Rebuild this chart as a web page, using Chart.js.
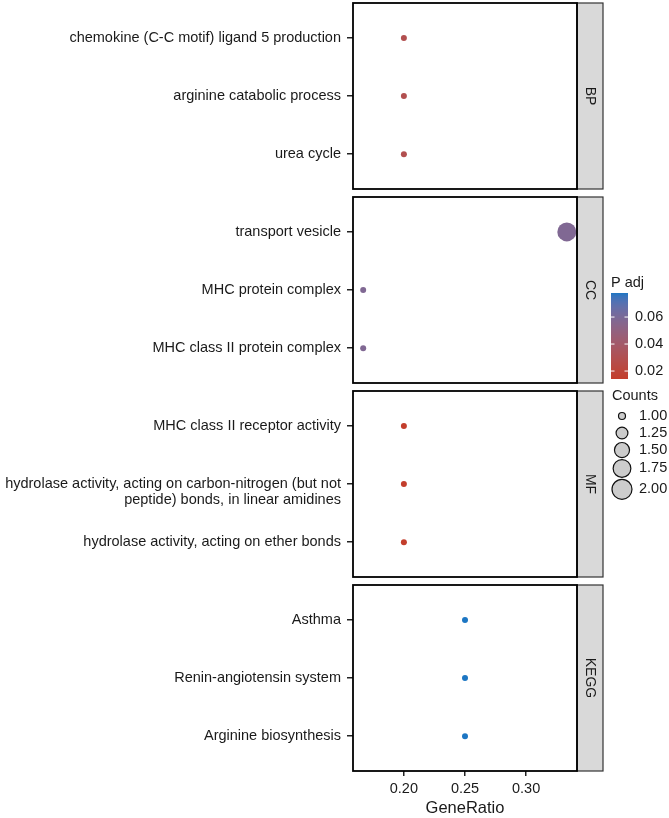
<!DOCTYPE html>
<html lang="en">
<head>
<meta charset="UTF-8" />
<title>Enrichment dot plot</title>
<style>
  body { margin: 0; background: #fff; overflow: hidden; }
  #wrap { position: relative; width: 669px; height: 818px; }
  #wrap canvas { position: absolute; left: 0; top: 0; }
</style>
</head>
<body>
<div id="wrap">
  <canvas id="p0" width="669" height="818"></canvas>
  <canvas id="p1" width="669" height="818"></canvas>
  <canvas id="p2" width="669" height="818"></canvas>
  <canvas id="p3" width="669" height="818"></canvas>
</div>

<script src="https://cdn.jsdelivr.net/npm/chart.js"></script>
<script>
// ---- data (top to bottom inside each panel) ----
const panels = ["BP", "CC", "MF", "KEGG"];

const bpTerms = ["chemokine (C-C motif) ligand 5 production", "arginine catabolic process", "urea cycle"];
const bpRatio = [0.2, 0.2, 0.2];
const bpPadj  = [0.029, 0.029, 0.029];
const bpCount = [1, 1, 1];

const ccTerms = ["transport vesicle", "MHC protein complex", "MHC class II protein complex"];
const ccRatio = [0.3333, 0.1667, 0.1667];
const ccPadj  = [0.058, 0.058, 0.058];
const ccCount = [2, 1, 1];

const mfTerms = ["MHC class II receptor activity",
  ["hydrolase activity, acting on carbon-nitrogen (but not", "peptide) bonds, in linear amidines"],
  "hydrolase activity, acting on ether bonds"];
const mfRatio = [0.2, 0.2, 0.2];
const mfPadj  = [0.0141, 0.0141, 0.0141];
const mfCount = [1, 1, 1];

const keggTerms = ["Asthma", "Renin-angiotensin system", "Arginine biosynthesis"];
const keggRatio = [0.25, 0.25, 0.25];
const keggPadj  = [0.0778, 0.0778, 0.0778];
const keggCount = [1, 1, 1];

const xTicks = [0.20, 0.25, 0.30];
const padjTicks = [0.02, 0.04, 0.06];
const countBreaks = [1.00, 1.25, 1.50, 1.75, 2.00];

const terms = [bpTerms, ccTerms, mfTerms, keggTerms];
const ratios = [bpRatio, ccRatio, mfRatio, keggRatio];
const padjs = [bpPadj, ccPadj, mfPadj, keggPadj];
const counts = [bpCount, ccCount, mfCount, keggCount];

// ---- scales ----
const allRatio = ratios.flat();
const rMin = Math.min(...allRatio), rMax = Math.max(...allRatio);
const xMin = rMin - 0.05 * (rMax - rMin), xMax = rMax + 0.05 * (rMax - rMin);

const allPadj = padjs.flat();
const pMin = Math.min(...allPadj), pMax = Math.max(...allPadj);
const allCount = counts.flat();
const cMin = Math.min(...allCount), cMax = Math.max(...allCount);

const LOW = "#C33E2C", HIGH = "#1C76C3";

function hexRgb(h) { return [1, 3, 5].map(i => parseInt(h.slice(i, i + 2), 16)); }
function toLab([r, g, b]) {
  const lin = c => { c /= 255; return c <= 0.04045 ? c / 12.92 : Math.pow((c + 0.055) / 1.055, 2.4); };
  const R = lin(r), G = lin(g), B = lin(b);
  const X = (R * 0.4124 + G * 0.3576 + B * 0.1805) / 0.95047;
  const Y = R * 0.2126 + G * 0.7152 + B * 0.0722;
  const Z = (R * 0.0193 + G * 0.1192 + B * 0.9505) / 1.08883;
  const f = t => t > 0.008856 ? Math.cbrt(t) : 7.787 * t + 16 / 116;
  const fx = f(X), fy = f(Y), fz = f(Z);
  return [116 * fy - 16, 500 * (fx - fy), 200 * (fy - fz)];
}
function fromLab([L, a, b]) {
  const fy = (L + 16) / 116, fx = fy + a / 500, fz = fy - b / 200;
  const finv = t => t * t * t > 0.008856 ? t * t * t : (t - 16 / 116) / 7.787;
  const X = finv(fx) * 0.95047, Y = finv(fy), Z = finv(fz) * 1.08883;
  const R = X * 3.2406 - Y * 1.5372 - Z * 0.4986;
  const G = -X * 0.9689 + Y * 1.8758 + Z * 0.0415;
  const B = X * 0.0557 - Y * 0.2040 + Z * 1.0570;
  const gam = c => { c = Math.min(1, Math.max(0, c)); return Math.round(255 * (c <= 0.0031308 ? 12.92 * c : 1.055 * Math.pow(c, 1 / 2.4) - 0.055)); };
  return `rgb(${gam(R)},${gam(G)},${gam(B)})`;
}
const labLow = toLab(hexRgb(LOW)), labHigh = toLab(hexRgb(HIGH));
function colorOf(p) {
  const t = Math.min(1, Math.max(0, (p - pMin) / (pMax - pMin)));
  return fromLab(labLow.map((v, i) => v + t * (labHigh[i] - v)));
}
// size: area-proportional between diameters 6 and 19 px
const D_MIN = 6, D_MAX = 19;
function diamOf(c) {
  const t = (c - cMin) / (cMax - cMin);
  return Math.sqrt(D_MIN * D_MIN + t * (D_MAX * D_MAX - D_MIN * D_MIN));
}

// ---- layout ----
const FONT = '"Liberation Sans", Arial, sans-serif';
Chart.defaults.font.family = FONT;
const TXT = "#1a1a1a";
const PANEL_LEFT = 353, PANEL_RIGHT = 577, STRIP_W = 26;
const PANEL_H = 186, PANEL_STEP = 194, PANEL_TOP0 = 3;

const framePlugin = {
  id: "frame",
  afterDraw(chart, args, opts) {
    const { ctx, chartArea: a } = chart;
    ctx.save();
    // strip
    ctx.fillStyle = "#d9d9d9";
    ctx.fillRect(a.right, a.top, STRIP_W, a.bottom - a.top);
    ctx.strokeStyle = "#333";
    ctx.lineWidth = 1.2;
    ctx.strokeRect(a.right, a.top, STRIP_W, a.bottom - a.top);
    ctx.translate(a.right + STRIP_W / 2, (a.top + a.bottom) / 2);
    ctx.rotate(Math.PI / 2);
    ctx.fillStyle = TXT;
    ctx.font = "14px " + FONT;
    ctx.textAlign = "center";
    ctx.textBaseline = "middle";
    ctx.fillText(opts.label, 0, 0);
    ctx.restore();
    // panel border
    ctx.save();
    ctx.strokeStyle = "#000";
    ctx.lineWidth = 1.8;
    ctx.strokeRect(a.left, a.top, a.right - a.left, a.bottom - a.top);
    ctx.restore();
  }
};

const legendPlugin = {
  id: "sideLegend",
  afterDraw(chart) {
    const ctx = chart.ctx;
    ctx.save();
    ctx.font = "14.5px " + FONT;
    ctx.fillStyle = TXT;
    ctx.textBaseline = "middle";
    ctx.textAlign = "left";
    // colour bar
    const bx = 611, bw = 17, bTop = 293, bBot = 379;
    ctx.fillText("P adj", 611, 283);
    for (let y = bTop; y < bBot; y++) {
      const p = pMax - (y + 0.5 - bTop) / (bBot - bTop) * (pMax - pMin);
      ctx.fillStyle = colorOf(p);
      ctx.fillRect(bx, y, bw, 1);
    }
    ctx.strokeStyle = "#fff";
    ctx.lineWidth = 1;
    padjTicks.forEach(v => {
      const y = bBot - (v - pMin) / (pMax - pMin) * (bBot - bTop);
      ctx.beginPath();
      ctx.moveTo(bx, y); ctx.lineTo(bx + 3.5, y);
      ctx.moveTo(bx + bw - 3.5, y); ctx.lineTo(bx + bw, y);
      ctx.stroke();
      ctx.fillStyle = TXT;
      ctx.fillText(v.toFixed(2), 635, y);
    });
    // size legend
    ctx.fillStyle = TXT;
    ctx.fillText("Counts", 612, 396);
    let y = 407.5;
    countBreaks.forEach(c => {
      const d = diamOf(c) + 1;
      const h = Math.max(17, d + 2);
      const cy = y + h / 2;
      ctx.beginPath();
      ctx.arc(622, cy, d / 2, 0, Math.PI * 2);
      ctx.fillStyle = "#cccccc";
      ctx.fill();
      ctx.strokeStyle = "#111";
      ctx.lineWidth = 1.2;
      ctx.stroke();
      ctx.fillStyle = TXT;
      ctx.fillText(c.toFixed(2), 639, cy);
      y += h;
    });
    ctx.restore();
  }
};

function makePanel(i) {
  const last = i === panels.length - 1;
  const top = PANEL_TOP0 + i * PANEL_STEP, bottom = top + PANEL_H;
  const r = counts[i].map(c => diamOf(c) / 2);
  return new Chart(document.getElementById("p" + i), {
    type: "scatter",
    data: {
      datasets: [{
        data: ratios[i].map((v, k) => ({ x: v, y: k + 1 })),
        pointRadius: r,
        pointHoverRadius: r,
        backgroundColor: padjs[i].map(colorOf),
        borderWidth: 0
      }]
    },
    options: {
      responsive: false,
      animation: false,
      layout: { padding: { top: top, bottom: last ? 0 : 818 - bottom, left: 0, right: 669 - PANEL_RIGHT } },
      plugins: {
        legend: { display: false },
        tooltip: { enabled: false },
        frame: { label: panels[i] }
      },
      scales: {
        x: {
          type: "linear",
          display: last,
          min: xMin,
          max: xMax,
          afterBuildTicks: s => { s.ticks = xTicks.map(v => ({ value: v })); },
          afterFit: s => { s.height = last ? 818 - bottom : 0; s.paddingLeft = 0; s.paddingRight = 0; },
          ticks: { callback: v => v.toFixed(2), color: TXT, font: { size: 14.5 }, padding: 4, maxRotation: 0 },
          grid: { drawOnChartArea: false, tickLength: 5, color: "#222", lineWidth: 1.5 },
          border: { display: false },
          title: { display: true, text: "GeneRatio", color: TXT, font: { size: 16.5 }, padding: { top: 0, bottom: 0 } }
        },
        y: {
          type: "linear",
          reverse: true,
          min: 0.4,
          max: 3.6,
          afterBuildTicks: s => { s.ticks = terms[i].map((t, k) => ({ value: k + 1 })); },
          afterFit: s => { s.width = PANEL_LEFT; s.paddingTop = 0; s.paddingBottom = 0; },
          ticks: {
            // wrapped label: first line sits on the tick
            callback: (v, k) => Array.isArray(terms[i][k]) ? [""].concat(terms[i][k]) : terms[i][k],
            color: TXT,
            font: { size: 14.5, lineHeight: 1.1 },
            padding: 6
          },
          grid: { drawOnChartArea: false, tickLength: 6, color: "#222", lineWidth: 1.5 },
          border: { display: false }
        }
      }
    },
    plugins: last ? [framePlugin, legendPlugin] : [framePlugin]
  });
}

panels.forEach((p, i) => makePanel(i));
</script>
</body>
</html>
